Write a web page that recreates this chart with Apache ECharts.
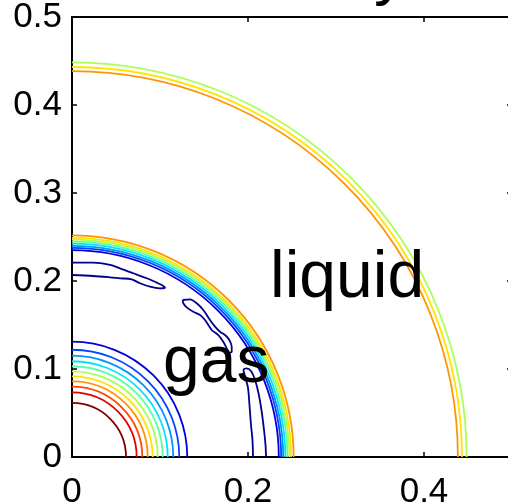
<!DOCTYPE html>
<html>
<head>
<meta charset="utf-8">
<title>density</title>
<script src="https://cdn.jsdelivr.net/npm/echarts/dist/echarts.min.js"></script>
<style>
	html, body { margin: 0; padding: 0; background: #fff; }
	#chart { width: 508px; height: 502px; }
</style>
</head>
<body>
<div id="chart"></div>
<script>
	/*
	 * contour data (level 1 = lowest)
	 */
	var ringRadius = [0.0614, 0.0735, 0.0799, 0.0860, 0.0917, 0.0974, 0.1031, 0.1088, 0.1151, 0.1219, 0.1310,
	                  0.2350, 0.2377, 0.2400, 0.2424, 0.2447, 0.2470, 0.2490, 0.2519,
	                  0.4385, 0.4432, 0.4485];
	var ringLevel = [12, 11, 10, 9, 8, 7, 6, 5, 4, 3, 2,
	                 2, 3, 4, 5, 6, 7, 8, 9,
	                 9, 8, 7];

	// level-1 contours that are not circles
	var lowTop = [[0, 0.2208], [0.0242, 0.2208], [0.0432, 0.2182], [0.0545, 0.2144], [0.0697, 0.2088],
	              [0.0849, 0.2031], [0.0963, 0.1981], [0.1019, 0.1955], [0.1057, 0.1924], [0.1000, 0.1917],
	              [0.0886, 0.1935], [0.0773, 0.1974], [0.0678, 0.2019], [0.0545, 0.2031], [0.0432, 0.2042],
	              [0.0242, 0.2057], [0, 0.2068]];
	var lowMid = [[0.1258, 0.1784], [0.1341, 0.1792], [0.1417, 0.1747], [0.1492, 0.1670], [0.1568, 0.1557],
	              [0.1625, 0.1481], [0.1682, 0.1424], [0.1739, 0.1386], [0.1788, 0.1330], [0.1815, 0.1253],
	              [0.1815, 0.1197], [0.1788, 0.1185], [0.1758, 0.1235], [0.1719, 0.1310], [0.1663, 0.1386],
	              [0.1588, 0.1443], [0.1549, 0.1500], [0.1511, 0.1557], [0.1455, 0.1614], [0.1378, 0.1651],
	              [0.1303, 0.1701], [0.1265, 0.1747], [0.1258, 0.1784]];
	var lowBottom = [[0.2057, 0], [0.2051, 0.0193], [0.2034, 0.0364], [0.2017, 0.0591], [0.2000, 0.0784],
	                 [0.1966, 0.0920], [0.1949, 0.0989], [0.1983, 0.1006], [0.2034, 0.0977], [0.2080, 0.0875],
	                 [0.2119, 0.0727], [0.2153, 0.0534], [0.2182, 0.0307], [0.2199, 0.0136], [0.2205, 0]];

	var xTickLabels = ["0", "0.2", "0.4"];
	var yTickLabels = ["0", "0.1", "0.2", "0.3", "0.4", "0.5"];

	var notes = [{ name: "gas", value: [0.1034, 0.1057] },
	             { name: "liquid", value: [0.2250, 0.2023] }];
	var titleText = "density";

	/*
	 * styles
	 */
	var levelColor = {
		1: "#00008f", 2: "#0000dd", 3: "#0044ff", 4: "#0094ff", 5: "#00e4ff", 6: "#5cffa2",
		7: "#aaff55", 8: "#ffe400", 9: "#ff9400", 10: "#ff4800", 11: "#e40000", 12: "#800000"
	};
	var font = "'Liberation Sans', Arial, Helvetica, sans-serif";

	var chart = echarts.init(document.getElementById("chart"), null, { renderer: "canvas" });

	var ringData = ringRadius.map(function(r, i) {
		return [r, r, ringLevel[i]];
	});

	function frameAxis(pos, interval, labels) {
		return {
			type: "value",
			position: pos,
			min: 0,
			max: 0.5,
			interval: interval,
			axisLine: { show: true, onZero: false, lineStyle: { color: "#000", width: 2 } },
			axisTick: { show: true, inside: true, length: 5, lineStyle: { color: "#000", width: 1.5 } },
			splitLine: { show: false },
			axisLabel: labels ? {
				show: true,
				color: "#000",
				fontSize: 35,
				fontFamily: font,
				margin: pos === "bottom" ? 18 : 10,
				showMaxLabel: pos !== "bottom",
				formatter: function(v) {
					var k = Math.round(v / interval);
					return labels[k] !== undefined ? labels[k] : "";
				}
			} : { show: false }
		};
	}

	function lowLine(data) {
		return {
			type: "line",
			data: data,
			showSymbol: false,
			smooth: 0.3,
			clip: true,
			lineStyle: { color: levelColor[1], width: 1.8 },
			z: 3
		};
	}

	chart.setOption({
		animation: false,
		backgroundColor: "#fff",
		grid: { left: 72, top: 17, width: 440, height: 440, containLabel: false, outerBoundsMode: "none" },
		xAxis: [frameAxis("bottom", 0.2, xTickLabels), frameAxis("top", 0.2, null)],
		yAxis: [frameAxis("left", 0.1, yTickLabels), frameAxis("right", 0.1, null)],
		graphic: [{
			type: "text",
			x: 407,
			y: -26,
			style: {
				text: titleText,
				align: "right",
				verticalAlign: "middle",
				font: "66px " + font,
				fill: "#000"
			}
		}],
		series: [{
			type: "custom",
			data: ringData,
			clip: true,
			renderItem: function(params, api) {
				var c = api.coord([0, 0]);
				var r = api.size([api.value(0), 0])[0];
				return {
					type: "arc",
					shape: { cx: c[0], cy: c[1], r: r, startAngle: -Math.PI / 2, endAngle: 0, clockwise: true },
					style: { stroke: levelColor[api.value(2)], lineWidth: 1.8, fill: "none" }
				};
			},
			z: 2
		},
		lowLine(lowTop),
		lowLine(lowMid),
		lowLine(lowBottom),
		{
			type: "scatter",
			data: notes,
			symbolSize: 0,
			silent: true,
			itemStyle: { opacity: 1 },
			label: {
				show: true,
				position: "right",
				distance: 0,
				formatter: "{b}",
				color: "#000",
				opacity: 1,
				fontSize: 66,
				fontFamily: font
			},
			z: 5
		}]
	});
</script>
</body>
</html>
